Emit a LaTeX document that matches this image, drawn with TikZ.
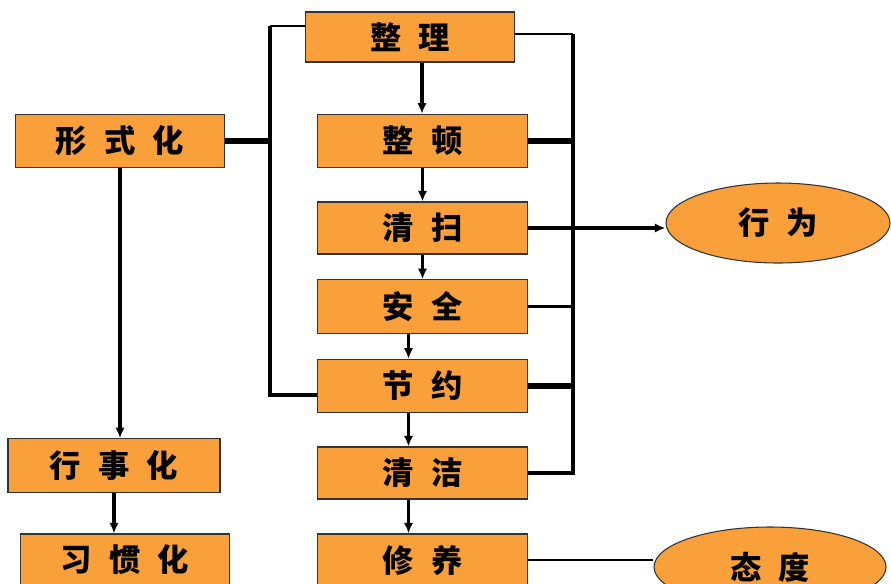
\documentclass[tikz,border=0pt]{standalone}
\usepackage{fontspec}
\newfontfamily\cjk{Noto Sans CJK SC}
\usetikzlibrary{arrows.meta}
\usetikzlibrary{shapes.geometric}
\definecolor{boxorange}{RGB}{250,160,58}
\newcommand\cgap{\hspace{13pt}}
\tikzset{
  box/.style={draw=black!80, line width=0.8pt, fill=boxorange, minimum width=157pt,
    minimum height=40pt, inner sep=0pt, font=\cjk\bfseries\fontsize{23.5}{23.5}\selectfont},
  oval/.style={box, ellipse},
  thinline/.style={line width=1.8pt},
  midline/.style={line width=2.6pt},
  thickline/.style={line width=3.8pt},
  arr/.style={-{Latex[length=8pt,width=7pt]}, line width=2.4pt}
}

\begin{document}
\begin{tikzpicture}[x=0.75pt, y=-0.75pt]
    \clip (0,0) rectangle (891,583);
    % middle column
    \node (zl) [box, minimum height=37.5pt] at (410,37) {整\cgap 理};
    \node (zd) [box] at (422.5,141) {整\cgap 顿};
    \node (qs) [box, minimum height=39pt] at (422.5,228) {清\cgap 扫};
    \node (aq) [box] at (422.5,306.5) {安\cgap 全};
    \node (jy) [box] at (422.5,386) {节\cgap 约};
    \node (qj) [box, minimum height=39pt] at (422.5,473) {清\cgap 洁};
    \node (xy) [box, minimum height=39pt] at (422.5,560) {修\cgap 养};
    % left column
    \node (xsh) [box] at (120,141) {形\cgap 式\cgap 化};
    \node (xsz) [box, minimum width=159pt] at (114,465.5) {行\cgap 事\cgap 化};
    \node (xgh) [box, minimum height=39pt] at (125,560) {习\cgap 惯\cgap 化};
    % right side
    \node (xw) [oval, minimum width=168pt, minimum height=60pt] at (778,223) {行\cgap 为};
    \node (td) [oval, minimum width=174pt, minimum height=60pt] at (770,567) {态\cgap 度};

    \coordinate (ltop) at (270,26);
    \coordinate (lbot) at (270,395);
    \coordinate (rtop) at (573,34);
    \coordinate (rbot) at (573,473);

    % left bracket
    \draw[thickline] (xsh.east) -- (xsh.east -| ltop);
    \draw[thinline] (zl.west |- ltop) -- (ltop);
    \draw[midline] (ltop) -- (lbot) -- (jy.west |- lbot);

    % right bracket
    \draw[thinline] (zl.east |- rtop) -- (rtop);
    \draw[midline] (rtop) -- (rbot) -- (qj.east |- rbot);
    \draw[thickline] (zd.east) -- (zd.east -| rtop);
    \draw[midline] (aq.east) -- (aq.east -| rtop);
    \draw[thickline] (jy.east) -- (jy.east -| rtop);
    \draw[arr] (qs.east) -- (qs.east -| xw.west);
    \draw[thinline] (xy.east) -- (xy.east -| td.west);

    % steps
    \draw[arr] ([xshift=9pt]zl.south) -- ([xshift=9pt]zl.south |- zd.north);
    \draw[arr] (zd.south) -- (qs.north);
    \draw[arr] (qs.south) -- (aq.north);
    \foreach \a/\b in {aq/jy, jy/qj, qj/xy}
      \draw[arr] ([xshift=-10.5pt]\a.south) -- ([xshift=-10.5pt]\b.north);

    \draw[arr] (xsh.south) -- (xsh.south |- xsz.north);
    \draw[arr] (xsz.south) -- (xsz.south |- xgh.north);
\end{tikzpicture}
\end{document}
